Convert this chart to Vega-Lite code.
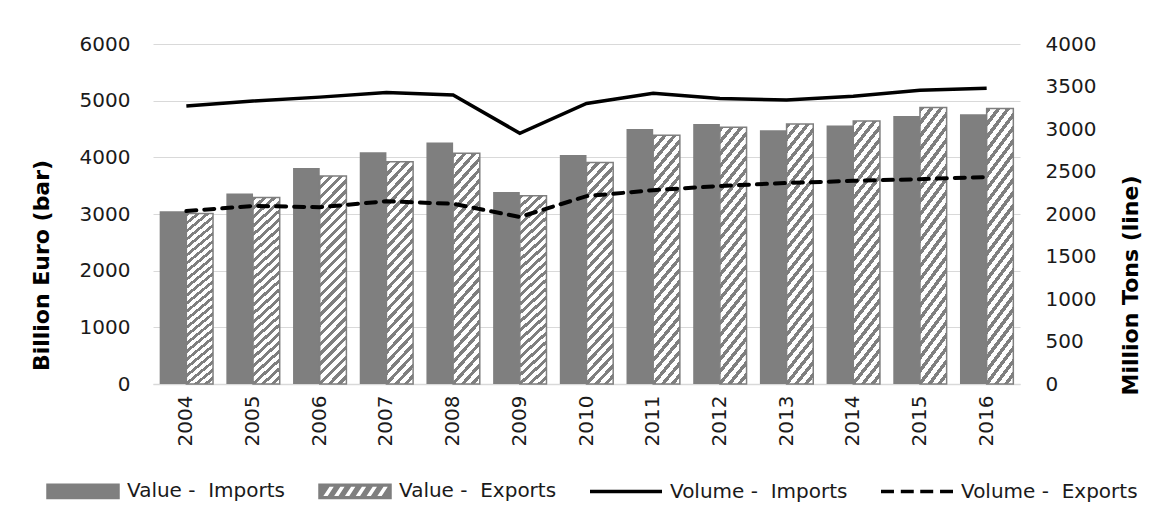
{
  "$schema": "https://vega.github.io/schema/vega-lite/v6.json",
  "width": 867,
  "height": 340,
  "autosize": "none",
  "padding": {"left": 153, "top": 44, "right": 135, "bottom": 136},
  "background": "white",
  "config": {
    "font": "DejaVu Sans",
    "view": {"stroke": null},
    "axis": {"labelFont": "DejaVu Sans", "labelFontSize": 20, "labelColor": "#1a1a1a", "titleFont": "DejaVu Sans", "titleColor": "#000000"},
    "legend": {"labelFont": "DejaVu Sans", "labelFontSize": 20, "labelColor": "#1a1a1a", "labelLimit": 400}
  },
  "datasets": {
    "value": [
      {"year": "2004", "flow": "Imports", "billion_euro": 3050},
      {"year": "2004", "flow": "Exports", "billion_euro": 3010},
      {"year": "2005", "flow": "Imports", "billion_euro": 3360},
      {"year": "2005", "flow": "Exports", "billion_euro": 3290},
      {"year": "2006", "flow": "Imports", "billion_euro": 3810},
      {"year": "2006", "flow": "Exports", "billion_euro": 3670},
      {"year": "2007", "flow": "Imports", "billion_euro": 4090},
      {"year": "2007", "flow": "Exports", "billion_euro": 3920},
      {"year": "2008", "flow": "Imports", "billion_euro": 4260},
      {"year": "2008", "flow": "Exports", "billion_euro": 4070},
      {"year": "2009", "flow": "Imports", "billion_euro": 3390},
      {"year": "2009", "flow": "Exports", "billion_euro": 3320},
      {"year": "2010", "flow": "Imports", "billion_euro": 4040},
      {"year": "2010", "flow": "Exports", "billion_euro": 3910},
      {"year": "2011", "flow": "Imports", "billion_euro": 4500},
      {"year": "2011", "flow": "Exports", "billion_euro": 4390},
      {"year": "2012", "flow": "Imports", "billion_euro": 4590},
      {"year": "2012", "flow": "Exports", "billion_euro": 4530},
      {"year": "2013", "flow": "Imports", "billion_euro": 4480},
      {"year": "2013", "flow": "Exports", "billion_euro": 4590},
      {"year": "2014", "flow": "Imports", "billion_euro": 4560},
      {"year": "2014", "flow": "Exports", "billion_euro": 4640},
      {"year": "2015", "flow": "Imports", "billion_euro": 4730},
      {"year": "2015", "flow": "Exports", "billion_euro": 4880},
      {"year": "2016", "flow": "Imports", "billion_euro": 4760},
      {"year": "2016", "flow": "Exports", "billion_euro": 4860}
    ],
    "volume": [
      {"year": "2004", "flow": "Imports", "million_tons": 3270},
      {"year": "2005", "flow": "Imports", "million_tons": 3330},
      {"year": "2006", "flow": "Imports", "million_tons": 3375},
      {"year": "2007", "flow": "Imports", "million_tons": 3430},
      {"year": "2008", "flow": "Imports", "million_tons": 3400},
      {"year": "2009", "flow": "Imports", "million_tons": 2950},
      {"year": "2010", "flow": "Imports", "million_tons": 3300},
      {"year": "2011", "flow": "Imports", "million_tons": 3420},
      {"year": "2012", "flow": "Imports", "million_tons": 3360},
      {"year": "2013", "flow": "Imports", "million_tons": 3340},
      {"year": "2014", "flow": "Imports", "million_tons": 3385},
      {"year": "2015", "flow": "Imports", "million_tons": 3455},
      {"year": "2016", "flow": "Imports", "million_tons": 3480},
      {"year": "2004", "flow": "Exports", "million_tons": 2035},
      {"year": "2005", "flow": "Exports", "million_tons": 2095},
      {"year": "2006", "flow": "Exports", "million_tons": 2080},
      {"year": "2007", "flow": "Exports", "million_tons": 2150},
      {"year": "2008", "flow": "Exports", "million_tons": 2120},
      {"year": "2009", "flow": "Exports", "million_tons": 1965},
      {"year": "2010", "flow": "Exports", "million_tons": 2210},
      {"year": "2011", "flow": "Exports", "million_tons": 2280},
      {"year": "2012", "flow": "Exports", "million_tons": 2330},
      {"year": "2013", "flow": "Exports", "million_tons": 2365},
      {"year": "2014", "flow": "Exports", "million_tons": 2390},
      {"year": "2015", "flow": "Exports", "million_tons": 2410},
      {"year": "2016", "flow": "Exports", "million_tons": 2435}
    ]
  },
  "layer": [
    {
      "data": {"name": "value"},
      "encoding": {
        "x": {
          "field": "year", "type": "nominal",
          "scale": {"paddingInner": 0.2, "paddingOuter": 0.1},
          "axis": {"title": null, "labelAngle": -90, "labelPadding": 11, "ticks": false, "domainColor": "#d9d9d9", "domainWidth": 1.5, "grid": false}
        },
        "xOffset": {"field": "flow", "type": "nominal", "scale": {"domain": ["Imports", "Exports"], "paddingInner": 0, "paddingOuter": 0}},
        "y": {
          "field": "billion_euro", "type": "quantitative",
          "scale": {"domain": [0, 6000], "nice": false},
          "axis": {
            "title": "Billion Euro (bar)", "values": [0, 1000, 2000, 3000, 4000, 5000, 6000], "format": "d",
            "ticks": false, "domain": false, "labelPadding": 23, "grid": true, "gridColor": "#d9d9d9", "gridWidth": 1.2,
            "titleFontSize": 22, "titleFontWeight": "bold", "titleAngle": 270, "titleX": -112, "titleY": 221, "titleBaseline": "middle", "titleAlign": "center"
          }
        }
      },
      "layer": [
        {
          "transform": [{"filter": "datum.flow === 'Imports'"}],
          "mark": {"type": "bar", "fill": "#7f7f7f"}
        },
        {
          "transform": [{"filter": "datum.flow === 'Exports'"}],
          "mark": {
            "type": "bar", "stroke": "#7f7f7f", "strokeWidth": 1.5,
            "fill": {
              "gradient": "linear", "x1": 0, "y1": 0, "x2": 0.144, "y2": 1.111,
              "stops": [
                {"offset": 0, "color": "#7f7f7f"}, {"offset": 0.0188, "color": "#7f7f7f"}, {"offset": 0.0188, "color": "#ffffff"}, {"offset": 0.0417, "color": "#ffffff"},
                {"offset": 0.0417, "color": "#7f7f7f"}, {"offset": 0.0605, "color": "#7f7f7f"}, {"offset": 0.0605, "color": "#ffffff"}, {"offset": 0.0833, "color": "#ffffff"},
                {"offset": 0.0833, "color": "#7f7f7f"}, {"offset": 0.1021, "color": "#7f7f7f"}, {"offset": 0.1021, "color": "#ffffff"}, {"offset": 0.125, "color": "#ffffff"},
                {"offset": 0.125, "color": "#7f7f7f"}, {"offset": 0.1438, "color": "#7f7f7f"}, {"offset": 0.1438, "color": "#ffffff"}, {"offset": 0.1667, "color": "#ffffff"},
                {"offset": 0.1667, "color": "#7f7f7f"}, {"offset": 0.1855, "color": "#7f7f7f"}, {"offset": 0.1855, "color": "#ffffff"}, {"offset": 0.2083, "color": "#ffffff"},
                {"offset": 0.2083, "color": "#7f7f7f"}, {"offset": 0.2271, "color": "#7f7f7f"}, {"offset": 0.2271, "color": "#ffffff"}, {"offset": 0.25, "color": "#ffffff"},
                {"offset": 0.25, "color": "#7f7f7f"}, {"offset": 0.2688, "color": "#7f7f7f"}, {"offset": 0.2688, "color": "#ffffff"}, {"offset": 0.2917, "color": "#ffffff"},
                {"offset": 0.2917, "color": "#7f7f7f"}, {"offset": 0.3105, "color": "#7f7f7f"}, {"offset": 0.3105, "color": "#ffffff"}, {"offset": 0.3333, "color": "#ffffff"},
                {"offset": 0.3333, "color": "#7f7f7f"}, {"offset": 0.3521, "color": "#7f7f7f"}, {"offset": 0.3521, "color": "#ffffff"}, {"offset": 0.375, "color": "#ffffff"},
                {"offset": 0.375, "color": "#7f7f7f"}, {"offset": 0.3938, "color": "#7f7f7f"}, {"offset": 0.3938, "color": "#ffffff"}, {"offset": 0.4167, "color": "#ffffff"},
                {"offset": 0.4167, "color": "#7f7f7f"}, {"offset": 0.4355, "color": "#7f7f7f"}, {"offset": 0.4355, "color": "#ffffff"}, {"offset": 0.4583, "color": "#ffffff"},
                {"offset": 0.4583, "color": "#7f7f7f"}, {"offset": 0.4771, "color": "#7f7f7f"}, {"offset": 0.4771, "color": "#ffffff"}, {"offset": 0.5, "color": "#ffffff"},
                {"offset": 0.5, "color": "#7f7f7f"}, {"offset": 0.5188, "color": "#7f7f7f"}, {"offset": 0.5188, "color": "#ffffff"}, {"offset": 0.5417, "color": "#ffffff"},
                {"offset": 0.5417, "color": "#7f7f7f"}, {"offset": 0.5605, "color": "#7f7f7f"}, {"offset": 0.5605, "color": "#ffffff"}, {"offset": 0.5833, "color": "#ffffff"},
                {"offset": 0.5833, "color": "#7f7f7f"}, {"offset": 0.6021, "color": "#7f7f7f"}, {"offset": 0.6021, "color": "#ffffff"}, {"offset": 0.625, "color": "#ffffff"},
                {"offset": 0.625, "color": "#7f7f7f"}, {"offset": 0.6438, "color": "#7f7f7f"}, {"offset": 0.6438, "color": "#ffffff"}, {"offset": 0.6667, "color": "#ffffff"},
                {"offset": 0.6667, "color": "#7f7f7f"}, {"offset": 0.6855, "color": "#7f7f7f"}, {"offset": 0.6855, "color": "#ffffff"}, {"offset": 0.7083, "color": "#ffffff"},
                {"offset": 0.7083, "color": "#7f7f7f"}, {"offset": 0.7271, "color": "#7f7f7f"}, {"offset": 0.7271, "color": "#ffffff"}, {"offset": 0.75, "color": "#ffffff"},
                {"offset": 0.75, "color": "#7f7f7f"}, {"offset": 0.7688, "color": "#7f7f7f"}, {"offset": 0.7688, "color": "#ffffff"}, {"offset": 0.7917, "color": "#ffffff"},
                {"offset": 0.7917, "color": "#7f7f7f"}, {"offset": 0.8105, "color": "#7f7f7f"}, {"offset": 0.8105, "color": "#ffffff"}, {"offset": 0.8333, "color": "#ffffff"},
                {"offset": 0.8333, "color": "#7f7f7f"}, {"offset": 0.8521, "color": "#7f7f7f"}, {"offset": 0.8521, "color": "#ffffff"}, {"offset": 0.875, "color": "#ffffff"},
                {"offset": 0.875, "color": "#7f7f7f"}, {"offset": 0.8938, "color": "#7f7f7f"}, {"offset": 0.8938, "color": "#ffffff"}, {"offset": 0.9167, "color": "#ffffff"},
                {"offset": 0.9167, "color": "#7f7f7f"}, {"offset": 0.9355, "color": "#7f7f7f"}, {"offset": 0.9355, "color": "#ffffff"}, {"offset": 0.9583, "color": "#ffffff"},
                {"offset": 0.9583, "color": "#7f7f7f"}, {"offset": 0.9771, "color": "#7f7f7f"}, {"offset": 0.9771, "color": "#ffffff"}, {"offset": 1, "color": "#ffffff"}
              ]
            }
          }
        }
      ]
    },
    {
      "data": {"name": "volume"},
      "encoding": {
        "x": {"field": "year", "type": "nominal"},
        "y": {
          "field": "million_tons", "type": "quantitative",
          "scale": {"domain": [0, 4000], "nice": false},
          "axis": {
            "orient": "right", "title": "Million Tons (line)", "values": [0, 500, 1000, 1500, 2000, 2500, 3000, 3500, 4000], "format": "d",
            "ticks": false, "domain": false, "grid": false, "labelPadding": 25,
            "titleFontSize": 22, "titleFontWeight": "bold", "titleAngle": 270, "titleX": 110, "titleY": 241, "titleBaseline": "middle", "titleAlign": "center"
          }
        }
      },
      "layer": [
        {
          "transform": [{"filter": "datum.flow === 'Imports'"}],
          "mark": {"type": "line", "stroke": "#000000", "strokeWidth": 3.5}
        },
        {
          "transform": [{"filter": "datum.flow === 'Exports'"}],
          "mark": {"type": "line", "stroke": "#000000", "strokeWidth": 4, "strokeDash": [10, 8], "strokeCap": "round"}
        }
      ]
    },
    {
      "data": {"name": "value"},
      "transform": [{"filter": "false"}],
      "mark": {"type": "point", "filled": true, "opacity": 1},
      "encoding": {
        "fill": {
          "field": "series", "type": "nominal",
          "scale": {
            "domain": ["Value - \u00a0Imports", "Value - \u00a0Exports", "Volume - \u00a0Imports", "Volume - \u00a0Exports"],
            "range": ["#7f7f7f", "#7f7f7f", "#000000", "#000000"]
          },
          "legend": {
            "title": null, "orient": "none", "direction": "horizontal", "legendX": -107, "legendY": 410,
            "symbolSize": 5184, "labelOffset": 7, "columnPadding": 30, "symbolStrokeWidth": 1.5, "padding": 0, "labelFontSize": 20, "labelLimit": 400
          }
        },
        "stroke": {
          "field": "series", "type": "nominal",
          "scale": {
            "domain": ["Value - \u00a0Imports", "Value - \u00a0Exports", "Volume - \u00a0Imports", "Volume - \u00a0Exports"],
            "range": ["#7f7f7f", "#7f7f7f", "transparent", "transparent"]
          },
          "legend": {
            "title": null, "orient": "none", "direction": "horizontal", "legendX": -107, "legendY": 410,
            "symbolSize": 5184, "labelOffset": 7, "columnPadding": 30, "symbolStrokeWidth": 1.5, "padding": 0, "labelFontSize": 20, "labelLimit": 400
          }
        },
        "shape": {
          "field": "series", "type": "nominal",
          "scale": {
            "domain": ["Value - \u00a0Imports", "Value - \u00a0Exports", "Volume - \u00a0Imports", "Volume - \u00a0Exports"],
            "range": [
              "M-1,-0.2H1V0.2H-1Z",
              "M-1,-0.2H1V0.2H-1Z M-0.92,0.15H-0.75L-0.55,-0.15H-0.72Z M-0.62,0.15H-0.45L-0.25,-0.15H-0.42Z M-0.32,0.15H-0.15L0.05,-0.15H-0.12Z M-0.02,0.15H0.15L0.35,-0.15H0.18Z M0.28,0.15H0.45L0.65,-0.15H0.48Z M0.58,0.15H0.75L0.95,-0.15H0.78Z",
              "M-1,-0.05H1V0.05H-1Z",
              "M-1,-0.05H-0.64V0.05H-1Z M-0.45,-0.05H-0.09V0.05H-0.45Z M0.09,-0.05H0.45V0.05H0.09Z M0.64,-0.05H1V0.05H0.64Z"
            ]
          },
          "legend": {
            "title": null, "orient": "none", "direction": "horizontal", "legendX": -107, "legendY": 410,
            "symbolSize": 5184, "labelOffset": 7, "columnPadding": 30, "symbolStrokeWidth": 1.5, "padding": 0, "labelFontSize": 20, "labelLimit": 400
          }
        }
      }
    }
  ],
  "resolve": {"scale": {"y": "independent"}}
}
